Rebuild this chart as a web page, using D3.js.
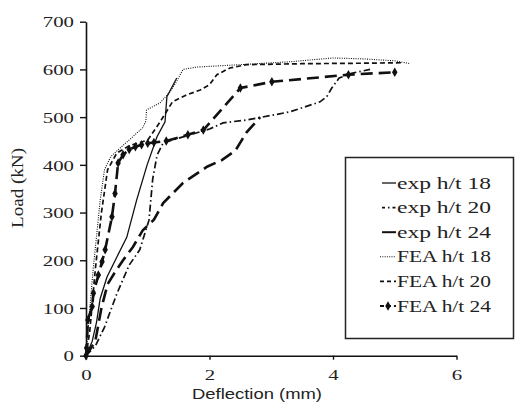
<!DOCTYPE html>
<html><head><meta charset="utf-8">
<script src="https://cdn.jsdelivr.net/npm/d3@7"></script>
<style>html,body{margin:0;padding:0;background:#fff;}svg{display:block;}
.serif{font-family:"Liberation Serif","DejaVu Serif",serif;}
.sans{font-family:"Liberation Sans","DejaVu Sans",sans-serif;}</style>
</head><body><svg id="c" width="517" height="408"></svg>
<script>
const xTicks=[0,2,4,6];
const yTicks=[0,100,200,300,400,500,600,700];
const xLabel="Deflection (mm)";
const yLabel="Load (kN)";
const seriesNames=["exp h/t 18","exp h/t 20","exp h/t 24","FEA h/t 18","FEA h/t 20","FEA h/t 24"];
const exp18=[[0,0],[0.1,30],[0.17,70],[0.23,120],[0.34,165],[0.5,207],[0.66,248],[0.82,326],[0.99,400],[1.15,459],[1.28,490],[1.31,543],[1.47,582]];
const exp20=[[0,0],[0.15,20],[0.3,60],[0.5,130],[0.7,190],[0.87,222],[1.02,284],[1.08,370],[1.15,420],[1.25,446],[1.5,456],[2.0,475],[2.22,488],[2.6,494],[2.85,500],[3.3,511],[3.79,532],[3.9,543],[3.98,561],[4.1,582],[4.3,592],[4.6,600]];
const exp24=[[0,0],[0.15,30],[0.25,100],[0.35,150],[0.47,175],[0.6,200],[0.76,228],[0.92,263],[1.1,285],[1.25,320],[1.57,362],[1.96,396],[2.2,410],[2.42,430],[2.6,468],[2.82,500]];
const fea18=[[0,0],[0.04,68],[0.12,186],[0.23,326],[0.3,390],[0.4,417],[0.55,435],[0.75,458],[0.92,478],[0.97,492],[0.98,515],[1.2,530],[1.36,553],[1.47,575],[1.57,600],[1.8,605],[2.5,610],[3.3,616],[4.0,624],[4.5,622],[5.0,618],[5.25,612]];
const fea20=[[0,0],[0.06,50],[0.15,180],[0.25,300],[0.35,390],[0.5,425],[0.7,440],[1.0,452],[1.2,490],[1.4,532],[1.6,545],[1.85,557],[2.0,568],[2.12,589],[2.33,603],[2.6,610],[3.5,612],[4.5,613],[5.1,614]];
const fea24=[[0,0],[0.01,16],[0.03,75],[0.1,103],[0.12,131],[0.2,169],[0.26,197],[0.31,222],[0.42,291],[0.47,340],[0.52,404],[0.6,421],[0.7,432],[0.8,438],[0.9,442],[1.0,445],[1.1,447],[1.3,450],[1.65,463],[1.9,473],[2.5,561],[3.01,574],[4.25,589],[5.0,594]];

const svg=d3.select("#c");
const x=d3.scaleLinear().domain([0,6]).range([86,456.5]);
const y=d3.scaleLinear().domain([0,700]).range([355.7,21.7]);

const gx=svg.append("g").attr("transform","translate(0,"+y(0)+")")
  .call(d3.axisBottom(x).tickValues(xTicks).tickSize(4).tickSizeOuter(0).tickFormat(d3.format("d")));
const gy=svg.append("g").attr("transform","translate("+x(0)+",0)")
  .call(d3.axisLeft(y).tickValues(yTicks).tickSize(6).tickSizeOuter(0).tickFormat(d3.format("d")));
[gx,gy].forEach(g=>{
  g.attr("font-family",null);
  g.select(".domain").attr("stroke","#111").attr("stroke-width",1.6);
  g.selectAll(".tick line").attr("stroke","#111").attr("stroke-width",1.4);
  g.selectAll(".tick text").attr("class","serif").attr("font-size",15).attr("fill","#222")
   .attr("textLength",function(d){return String(d).length*10.4;}).attr("lengthAdjust","spacingAndGlyphs");
});
gy.selectAll(".tick text").attr("x",-12).attr("dy","0.35em");
gx.selectAll(".tick text").attr("y",14).attr("dy","0.71em");

svg.append("text").attr("class","sans").attr("x",257).attr("y",399).attr("text-anchor","middle")
  .attr("font-size",14).attr("fill","#222")
  .attr("textLength",130).attr("lengthAdjust","spacingAndGlyphs").text(xLabel);
svg.append("text").attr("class","serif").attr("transform","translate(23,188) rotate(-90)").attr("text-anchor","middle")
  .attr("font-size",16).attr("fill","#222")
  .attr("textLength",80).attr("lengthAdjust","spacingAndGlyphs").text(yLabel);

const line=d3.line().x(d=>x(d[0])).y(d=>y(d[1]));
const styles=[
  {data:exp18,w:1.3,dash:null},
  {data:exp20,w:1.7,dash:"7,3,1.5,3"},
  {data:exp24,w:2.6,dash:"13,6"},
  {data:fea18,w:1.1,dash:"1,1.3"},
  {data:fea20,w:1.7,dash:"5,3"},
  {data:fea24,w:2.6,dash:"12,6"}
];
styles.forEach(s=>{
  svg.append("path").datum(s.data).attr("d",line).attr("fill","none")
    .attr("stroke","#111").attr("stroke-width",s.w).attr("stroke-dasharray",s.dash);
});
svg.append("g").selectAll("path").data(fea24).join("path")
  .attr("transform",d=>"translate("+x(d[0])+","+y(d[1])+")")
  .attr("d",d3.symbol(d3.symbolDiamond,26)).attr("fill","#111");

// legend
const lg=svg.append("g");
lg.append("rect").attr("x",345.5).attr("y",157.5).attr("width",168).attr("height",181)
  .attr("fill","#fff").attr("stroke","#222").attr("stroke-width",1.5);
const rowY=d3.scalePoint().domain(seriesNames).range([183,306]);
const legDash=[null,"3,3,1.5,3",null,"1,1.3","4,3","4,3"];
seriesNames.forEach((n,i)=>{
  const yy=rowY(n);
  const s=styles[i];
  const x0=i>=3?380:382;
  lg.append("line").attr("x1",x0).attr("x2",396).attr("y1",yy).attr("y2",yy)
    .attr("stroke","#111").attr("stroke-width",Math.min(s.w,2)).attr("stroke-dasharray",legDash[i]);
  if(i==5) lg.append("path").attr("transform","translate(388,"+yy+")").attr("d",d3.symbol(d3.symbolDiamond,26)).attr("fill","#111");
  lg.append("text").attr("class","serif").attr("x",397).attr("y",yy).attr("dy","0.35em")
    .attr("font-size",16).attr("fill","#222")
    .attr("textLength",94).attr("lengthAdjust","spacingAndGlyphs").text(n);
});
</script></body></html>
